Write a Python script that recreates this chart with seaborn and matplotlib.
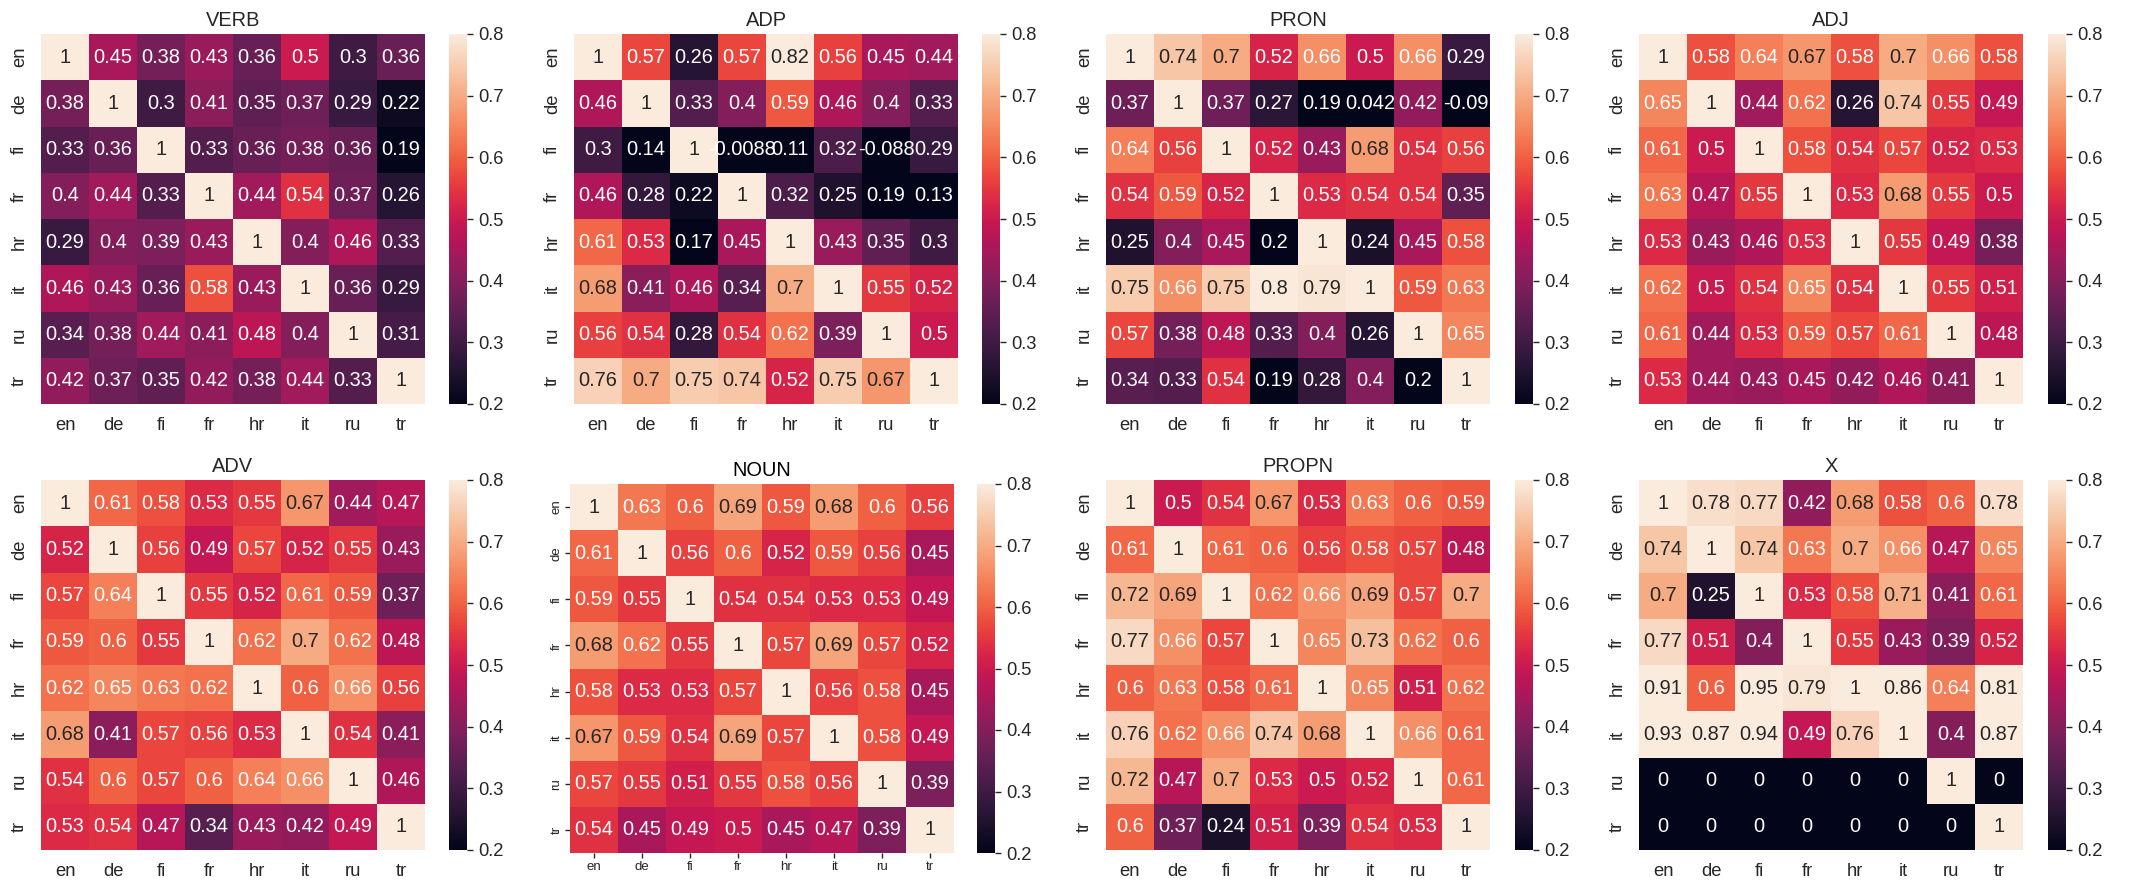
import numpy as np
import pandas as pd
import matplotlib
matplotlib.use("Agg")
import matplotlib.pyplot as plt
import seaborn as sns

langs = ["en", "de", "fi", "fr", "hr", "it", "ru", "tr"]
tags = ["VERB", "ADP", "PRON", "ADJ", "ADV", "NOUN", "PROPN", "X"]

verb = [
    [1, .45, .38, .43, .36, .5, .3, .36],
    [.38, 1, .3, .41, .35, .37, .29, .22],
    [.33, .36, 1, .33, .36, .38, .36, .19],
    [.4, .44, .33, 1, .44, .54, .37, .26],
    [.29, .4, .39, .43, 1, .4, .46, .33],
    [.46, .43, .36, .58, .43, 1, .36, .29],
    [.34, .38, .44, .41, .48, .4, 1, .31],
    [.42, .37, .35, .42, .38, .44, .33, 1],
]
adp = [
    [1, .57, .26, .57, .82, .56, .45, .44],
    [.46, 1, .33, .4, .59, .46, .4, .33],
    [.3, .14, 1, -.0088, .11, .32, -.088, .29],
    [.46, .28, .22, 1, .32, .25, .19, .13],
    [.61, .53, .17, .45, 1, .43, .35, .3],
    [.68, .41, .46, .34, .7, 1, .55, .52],
    [.56, .54, .28, .54, .62, .39, 1, .5],
    [.76, .7, .75, .74, .52, .75, .67, 1],
]
pron = [
    [1, .74, .7, .52, .66, .5, .66, .29],
    [.37, 1, .37, .27, .19, .042, .42, -.09],
    [.64, .56, 1, .52, .43, .68, .54, .56],
    [.54, .59, .52, 1, .53, .54, .54, .35],
    [.25, .4, .45, .2, 1, .24, .45, .58],
    [.75, .66, .75, .8, .79, 1, .59, .63],
    [.57, .38, .48, .33, .4, .26, 1, .65],
    [.34, .33, .54, .19, .28, .4, .2, 1],
]
adj = [
    [1, .58, .64, .67, .58, .7, .66, .58],
    [.65, 1, .44, .62, .26, .74, .55, .49],
    [.61, .5, 1, .58, .54, .57, .52, .53],
    [.63, .47, .55, 1, .53, .68, .55, .5],
    [.53, .43, .46, .53, 1, .55, .49, .38],
    [.62, .5, .54, .65, .54, 1, .55, .51],
    [.61, .44, .53, .59, .57, .61, 1, .48],
    [.53, .44, .43, .45, .42, .46, .41, 1],
]
adv = [
    [1, .61, .58, .53, .55, .67, .44, .47],
    [.52, 1, .56, .49, .57, .52, .55, .43],
    [.57, .64, 1, .55, .52, .61, .59, .37],
    [.59, .6, .55, 1, .62, .7, .62, .48],
    [.62, .65, .63, .62, 1, .6, .66, .56],
    [.68, .41, .57, .56, .53, 1, .54, .41],
    [.54, .6, .57, .6, .64, .66, 1, .46],
    [.53, .54, .47, .34, .43, .42, .49, 1],
]
noun = [
    [1, .63, .6, .69, .59, .68, .6, .56],
    [.61, 1, .56, .6, .52, .59, .56, .45],
    [.59, .55, 1, .54, .54, .53, .53, .49],
    [.68, .62, .55, 1, .57, .69, .57, .52],
    [.58, .53, .53, .57, 1, .56, .58, .45],
    [.67, .59, .54, .69, .57, 1, .58, .49],
    [.57, .55, .51, .55, .58, .56, 1, .39],
    [.54, .45, .49, .5, .45, .47, .39, 1],
]
propn = [
    [1, .5, .54, .67, .53, .63, .6, .59],
    [.61, 1, .61, .6, .56, .58, .57, .48],
    [.72, .69, 1, .62, .66, .69, .57, .7],
    [.77, .66, .57, 1, .65, .73, .62, .6],
    [.6, .63, .58, .61, 1, .65, .51, .62],
    [.76, .62, .66, .74, .68, 1, .66, .61],
    [.72, .47, .7, .53, .5, .52, 1, .61],
    [.6, .37, .24, .51, .39, .54, .53, 1],
]
x_tag = [
    [1, .78, .77, .42, .68, .58, .6, .78],
    [.74, 1, .74, .63, .7, .66, .47, .65],
    [.7, .25, 1, .53, .58, .71, .41, .61],
    [.77, .51, .4, 1, .55, .43, .39, .52],
    [.91, .6, .95, .79, 1, .86, .64, .81],
    [.93, .87, .94, .49, .76, 1, .4, .87],
    [0, 0, 0, 0, 0, 0, 1, 0],
    [0, 0, 0, 0, 0, 0, 0, 1],
]
matrices = [verb, adp, pron, adj, adv, noun, propn, x_tag]

sns.set_theme(style="white", font_scale=1.2)
plt.rcParams["font.family"] = ["Liberation Sans", "DejaVu Sans"]

W, H = 2132, 892
fig = plt.figure(figsize=(W / 100, H / 100), dpi=100)

def frac(left, top, right, bottom):
    return [left / W, 1 - bottom / H, (right - left) / W, (bottom - top) / H]

hm_lefts = [41, 574, 1106, 1639]
cb_lefts = [449, 982, 1515, 2048]
rows = [(34, 404), (480, 850)]

for i, (tag, mat) in enumerate(zip(tags, matrices)):
    r, c = divmod(i, 4)
    top, bottom = rows[r]
    left = hm_lefts[c]
    right = left + 384
    cl = cb_lefts[c]
    if tag == "NOUN":
        top, bottom = 484, 853
        left, right = 570, 954
        cl = 977
    ax = fig.add_axes(frac(left, top, right, bottom))
    cax = fig.add_axes(frac(cl, top, cl + 18, bottom))
    df = pd.DataFrame(np.array(mat, dtype=float), index=langs, columns=langs)
    sns.heatmap(df, ax=ax, cbar_ax=cax, vmin=0.2, vmax=0.8, annot=True,
                annot_kws={"fontsize": 14.4})
    ax.set_yticklabels(langs, rotation=90, va="center")
    ax.set_xticklabels(langs, rotation=0)
    cax.tick_params(length=4.3, width=1, pad=4, labelsize=13.2)
    if tag == "NOUN":
        ax.set_title(tag, fontsize=14.4, color="black", pad=6)
        ax.tick_params(axis="both", labelsize=9.5, length=3.5, width=1,
                       bottom=True, left=True, pad=2)
    else:
        ax.set_title(tag, fontsize=14.4, pad=6)
        ax.tick_params(axis="both", labelsize=13.2)

fig.savefig("out.png", dpi=100)
